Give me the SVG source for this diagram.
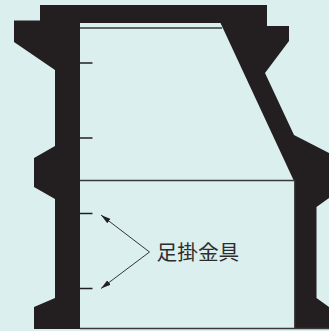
<svg xmlns="http://www.w3.org/2000/svg" width="329" height="331" viewBox="0 0 329 331">
<style>
.wall{fill:#231f20}
.ln{stroke:#3a3839;fill:none;stroke-width:1.3}
.rung{stroke:#231f20;fill:none;stroke-width:1.6}
.ar{stroke:#231f20;fill:none;stroke-width:.9}
.lbl{font-family:"Noto Sans CJK JP","Noto Sans CJK SC",sans-serif;font-size:20.700px;fill:#2f2c2d}
</style>
<defs><marker id="a" markerUnits="userSpaceOnUse" markerWidth="12" markerHeight="8" refX="10" refY="4" orient="auto"><path d="M0 1.300L10 4L0 6.700Z" fill="#231f20"/></marker></defs>
<rect width="329" height="331" fill="#dbefee"/>
<g id="shaft">
<path class="wall" d="M40 5H267V26H289V41L265 73L294 135L329 153V198L316.500 207V298L329 307V328H295V181L293.500 180L220.500 23H80V329H34V307L55 298V199L34 187V158L55 146V70L14 42V20.500H40Z"/>
</g>
<g id="ring"><path class="ln" d="M80 28H222"/><path class="ln" d="M80 180.500H294"/><path class="ln" d="M294.700 180V328"/><path class="ln" d="M80 328.500H329"/></g>
<g id="rungs"><path class="rung" d="M80 63H92.500M80 138H92.500M80 213.500H92.500M80 288.500H92.500"/></g>
<g id="connectors"><path class="ar" marker-end="url(#a)" d="M149.500 252L101 215"/><path class="ar" marker-end="url(#a)" d="M149.500 252L101 288.500"/></g>
<g id="label"><text class="lbl" x="156.500" y="259.500">足掛金具</text></g>
</svg>
